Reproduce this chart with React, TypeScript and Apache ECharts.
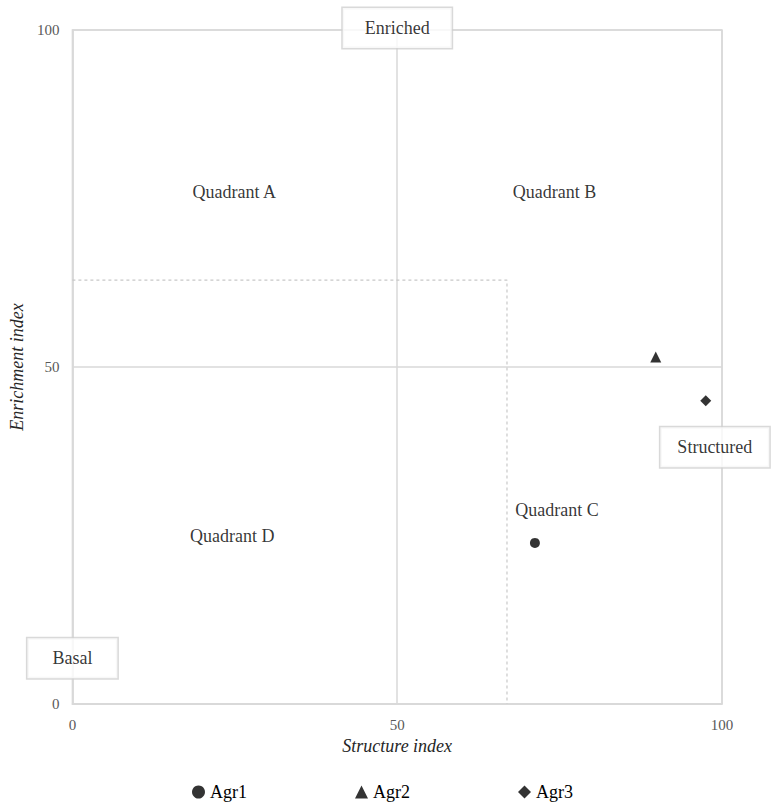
import React, { useEffect, useRef } from "react";
import * as echarts from "echarts";

const seriesNames = ["Agr1", "Agr2", "Agr3"];
const seriesSymbols = ["circle", "triangle", "diamond"];
const seriesPoints: number[][] = [
  [71.2, 23.9],
  [89.8, 51.5],
  [97.5, 45.0],
];
const xTicks = [0, 50, 100];
const yTicks = [0, 50, 100];
const dashedBoundary: number[][] = [
  [0, 62.9],
  [66.9, 62.9],
  [66.9, 0],
];
const quadrantLabels = ["Quadrant A", "Quadrant B", "Quadrant C", "Quadrant D"];
const quadrantPositions: number[][] = [
  [24.9, 76],
  [74.2, 76],
  [74.6, 28.8],
  [24.6, 24.9],
];
const boxLabels = ["Enriched", "Structured", "Basal"];
const boxPositions: number[][] = [
  [50, 100.3],
  [98.9, 38.1],
  [0, 6.8],
];

const FONT = "'Liberation Serif', 'Times New Roman', serif";
const boxPadding = [
  [11, 22, 11, 22],
  [11, 17, 11, 17],
  [11, 25, 11, 25],
];

export default function App() {
  const ref = useRef<HTMLDivElement>(null);
  useEffect(() => {
    if (!ref.current) return;
    const chart = echarts.init(ref.current, null, { renderer: "svg" });
    const axisCommon = {
      type: "value" as const,
      min: xTicks[0],
      max: xTicks[xTicks.length - 1],
      interval: 50,
      axisLine: { show: true, lineStyle: { color: "#d9d9d9", width: 1.5 } },
      axisTick: { show: false },
      splitLine: { show: true, lineStyle: { color: "#d9d9d9", width: 1.5 } },
      axisLabel: { color: "#595959", fontFamily: FONT, fontSize: 15, margin: 13 },
      nameTextStyle: { color: "#262626", fontFamily: FONT, fontSize: 18, fontStyle: "italic" },
      nameLocation: "middle" as const,
    };
    chart.setOption({
      animation: false,
      grid: {
        left: 72,
        right: 53,
        top: 30,
        bottom: 102,
        show: true,
        borderColor: "#d9d9d9",
        borderWidth: 1.5,
      },
      xAxis: { ...axisCommon, name: "Structure index", nameGap: 33 },
      yAxis: {
        ...axisCommon,
        min: yTicks[0],
        max: yTicks[yTicks.length - 1],
        name: "Enrichment index",
        nameGap: 46,
      },
      legend: {
        data: seriesNames.map((n, i) => ({ name: n, icon: seriesSymbols[i] })),
        left: 192,
        top: 783,
        itemWidth: 13,
        itemHeight: 13,
        itemGap: 108,
        padding: 0,
        textStyle: { color: "#000", fontFamily: FONT, fontSize: 18 },
      },
      series: [
        ...seriesNames.map((n, i) => ({
          name: n,
          type: "scatter",
          symbol: seriesSymbols[i],
          symbolSize: i === 0 ? 10 : 11,
          itemStyle: { color: "#000" },
          data: [seriesPoints[i]],
          z: 5,
        })),
        {
          name: "boundary",
          type: "line",
          data: dashedBoundary,
          symbol: "none",
          lineStyle: { color: "#c8c8c8", width: 1.2, type: [3, 3] },
          silent: true,
        },
        {
          name: "quadrants",
          type: "scatter",
          symbolSize: 0,
          silent: true,
          data: quadrantPositions.map((p, i) => ({ value: p, name: quadrantLabels[i] })),
          label: {
            show: true,
            position: "inside",
            formatter: (p: any) => p.name,
            color: "#000",
            fontFamily: FONT,
            fontSize: 18,
          },
        },
        {
          name: "boxes",
          type: "scatter",
          symbolSize: 0,
          silent: true,
          clip: false,
          z: 10,
          data: boxPositions.map((p, i) => ({
            value: p,
            name: boxLabels[i],
            label: { padding: boxPadding[i] },
          })),
          label: {
            show: true,
            position: "inside",
            formatter: (p: any) => p.name,
            color: "#000",
            fontFamily: FONT,
            fontSize: 18,
            backgroundColor: "#fff",
            borderColor: "#d0d0d0",
            borderWidth: 1.5,
          },
        },
      ],
    });
    return () => chart.dispose();
  }, []);
  return <div ref={ref} style={{ width: 775, height: 806, position: "absolute", left: 0, top: 0 }} />;
}
